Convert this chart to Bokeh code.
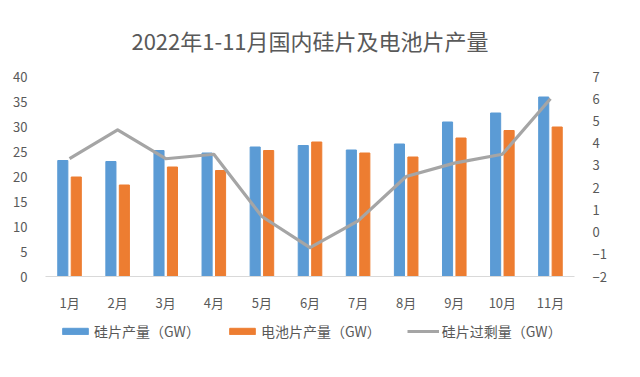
from bokeh.plotting import figure
from bokeh.layouts import column
from bokeh.models import (ColumnDataSource, LinearAxis, Range1d, FactorRange, Legend,
                          LegendItem, FixedTicker, Title)
from bokeh.transform import dodge
from bokeh.embed import file_html
from bokeh.resources import INLINE

months = ["1月", "2月", "3月", "4月", "5月", "6月", "7月", "8月", "9月", "10月", "11月"]
wafer = [23.2, 23.0, 25.2, 24.7, 25.9, 26.2, 25.3, 26.5, 30.9, 32.7, 35.9]
cell = [19.9, 18.3, 21.9, 21.2, 25.2, 26.9, 24.7, 23.9, 27.7, 29.2, 29.9]
surplus = [3.3, 4.6, 3.3, 3.5, 0.7, -0.7, 0.5, 2.5, 3.1, 3.5, 6.0]
left_ticks = [0, 5, 10, 15, 20, 25, 30, 35, 40]
right_ticks = [-2, -1, 0, 1, 2, 3, 4, 5, 6, 7]

names = ["硅片产量（GW）", "电池片产量（GW）", "硅片过剩量（GW）"]
title_text = "2022年1-11月国内硅片及电池片产量"
colors = ["#5B9BD5", "#ED7D31", "#A5A5A5"]

src = ColumnDataSource(dict(m=months, wafer=wafer, cell=cell, surplus=surplus))

FONT = "Noto Sans CJK SC"
GREY = "#595959"

p = figure(frame_width=529, frame_height=200, x_range=FactorRange(*months, range_padding=0),
           y_range=Range1d(0, 40), output_backend="svg", toolbar_location=None,
           min_border_left=45, min_border_right=50, min_border_top=69, min_border_bottom=36)
p.title = Title(text=title_text, align="center", text_font=FONT, text_font_size="22px",
                text_font_style="normal", text_color=GREY, offset=0, standoff=42)
p.extra_y_ranges = {"right": Range1d(-2, 7)}

p.vbar(x=dodge("m", -0.14, range=p.x_range), top="wafer", width=0.21, source=src,
       color=colors[0])
p.vbar(x=dodge("m", 0.14, range=p.x_range), top="cell", width=0.21, source=src,
       color=colors[1])
p.line(x="m", y="surplus", source=src, y_range_name="right", color=colors[2],
       line_width=3.2, line_join="round")

p.xgrid.visible = False
p.ygrid.visible = False
p.outline_line_color = None

p.yaxis[0].ticker = FixedTicker(ticks=left_ticks)
ra = LinearAxis(y_range_name="right", ticker=FixedTicker(ticks=right_ticks))
p.add_layout(ra, "right")

for ax in [p.yaxis[0], ra]:
    ax.axis_line_color = None
    ax.major_tick_line_color = None
    ax.minor_tick_line_color = None
    ax.major_label_text_font = FONT
    ax.major_label_text_font_size = "13px"
    ax.major_label_text_color = GREY
    ax.major_label_standoff = 12

xa = p.xaxis[0]
xa.axis_line_color = "#D9D9D9"
xa.major_tick_line_color = None
xa.minor_tick_line_color = None
xa.major_label_text_font = FONT
xa.major_label_text_font_size = "13px"
xa.major_label_text_color = GREY
xa.major_label_standoff = 10

# legend strip below the chart (its frame lines up with the chart's frame)
lg = figure(width=624, height=40, output_backend="svg", toolbar_location=None,
            x_range=Range1d(0, 1), y_range=Range1d(0, 1), min_border=0,
            x_axis_location=None, y_axis_location=None)
lg.xgrid.visible = False
lg.ygrid.visible = False
lg.outline_line_color = None
# swatch-only renderers (NaN data draws nothing; only their legend entries show)
nan = float("nan")
r1 = lg.vbar(x=[nan], top=[nan], width=0.1, color=colors[0])
r2 = lg.vbar(x=[nan], top=[nan], width=0.1, color=colors[1])
r3 = lg.line(x=[nan, nan], y=[nan, nan], color=colors[2], line_width=3.2)
legend = Legend(items=[LegendItem(label=names[0], renderers=[r1]),
                       LegendItem(label=names[1], renderers=[r2]),
                       LegendItem(label=names[2], renderers=[r3])],
                orientation="horizontal", location=(14, 13),
                label_text_font=FONT, label_text_font_size="14px", label_text_color=GREY,
                glyph_width=32, glyph_height=8, spacing=26, border_line_color=None,
                background_fill_alpha=0, margin=0, padding=4, label_standoff=3)
lg.add_layout(legend, "center")

layout = column(p, lg, spacing=0)

open("out.html", "w").write(file_html(layout, INLINE))
